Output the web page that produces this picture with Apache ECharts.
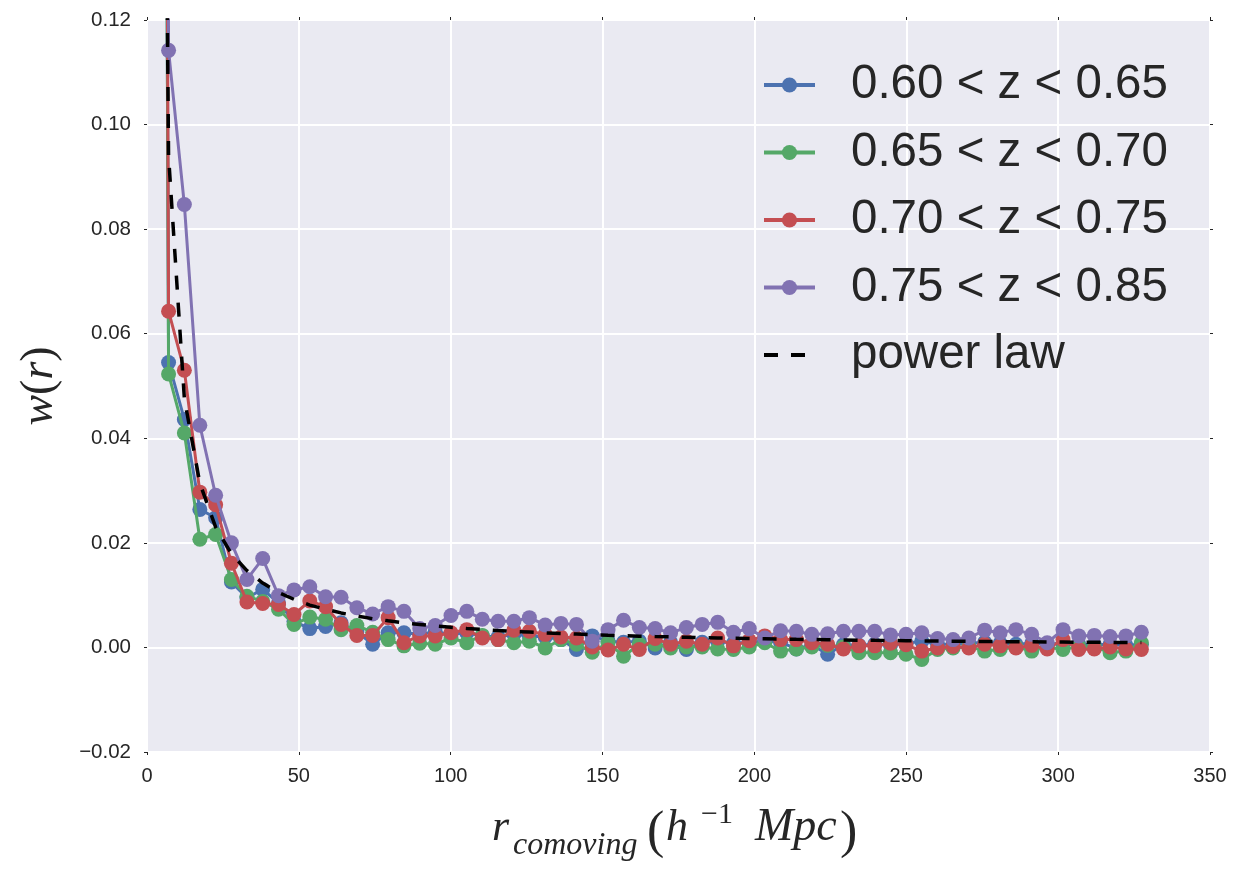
<!DOCTYPE html>
<html>
<head>
<meta charset="utf-8">
<title>w(r) by redshift slice</title>
<script src="https://cdn.jsdelivr.net/npm/echarts@6/dist/echarts.min.js"></script>
<style>
  html, body { margin: 0; padding: 0; background: #ffffff; }
  #chart { width: 1245px; height: 870px; }
</style>
</head>
<body>
<div id="chart"></div>
<script>
// Bin centres, r_comoving in h^-1 Mpc
const r = [
  1.9, 7.1, 12.3, 17.4, 22.6, 27.8, 32.9, 38.1,
  43.3, 48.4, 53.6, 58.8, 63.9, 69.1, 74.3, 79.4,
  84.6, 89.8, 94.9, 100.1, 105.3, 110.4, 115.6, 120.8,
  125.9, 131.1, 136.3, 141.4, 146.6, 151.8, 156.9, 162.1,
  167.3, 172.4, 177.6, 182.8, 187.9, 193.1, 198.3, 203.4,
  208.6, 213.8, 218.9, 224.1, 229.3, 234.4, 239.6, 244.8,
  249.9, 255.1, 260.3, 265.4, 270.6, 275.8, 280.9, 286.1,
  291.3, 296.4, 301.6, 306.8, 311.9, 317.1, 322.3, 327.4
];

// w(r) for 0.60 < z < 0.65
const wZ060 = [
  0.82, 0.0545, 0.0436, 0.0264, 0.0248, 0.0125, 0.0095, 0.0111,
  0.0085, 0.0050, 0.0036, 0.0040, 0.0047, 0.0030, 0.0006, 0.0028,
  0.0028, 0.0025, 0.0030, 0.0025, 0.0028, 0.0022, 0.0020, 0.0025,
  0.0022, 0.0020, 0.0015, -0.0004, 0.0022, 0.0012, 0.0010, 0.0012,
  -0.0001, 0.0010, -0.0004, 0.0010, 0.0012, 0.0008, 0.0010, 0.0012,
  0.0010, -0.0003, 0.0005, -0.0013, 0.0005, 0.0004, 0.0006, 0.0004,
  0.0008, 0.0012, 0.0006, 0.0006, 0.0008, 0.0010, 0.0008, 0.0006,
  0.0008, 0.0006, 0.0008, 0.0006, 0.0005, 0.0006, 0.0004, 0.0006
];

// w(r) for 0.65 < z < 0.70
const wZ065 = [
  0.80, 0.0523, 0.0410, 0.0207, 0.0216, 0.0130, 0.0098, 0.0088,
  0.0073, 0.0044, 0.0058, 0.0054, 0.0034, 0.0042, 0.0029, 0.0015,
  0.0003, 0.0008, 0.0006, 0.0018, 0.0009, 0.0023, 0.0015, 0.0009,
  0.0012, -0.0001, 0.0015, 0.0006, -0.0009, 0.0009, -0.0017, 0.0006,
  0.0006, -0.0001, 0.0001, 0.0001, -0.0003, -0.0004, 0.0001, 0.0009,
  -0.0007, -0.0003, 0.0001, 0.0004, 0.0001, -0.0010, -0.0010, -0.0010,
  -0.0013, -0.0023, -0.0004, -0.0001, 0.0002, -0.0007, -0.0004, 0.0001,
  -0.0007, 0.0001, -0.0004, 0.0002, 0.0001, -0.0010, -0.0007, 0.0009
];

// w(r) for 0.70 < z < 0.75
const wZ070 = [
  0.90, 0.0643, 0.0530, 0.0297, 0.0273, 0.0161, 0.0087, 0.0084,
  0.0082, 0.0063, 0.0089, 0.0078, 0.0044, 0.0023, 0.0023, 0.0057,
  0.0009, 0.0022, 0.0022, 0.0028, 0.0034, 0.0018, 0.0015, 0.0033,
  0.0031, 0.0025, 0.0020, 0.0018, 0.0001, -0.0005, 0.0006, -0.0004,
  0.0017, 0.0006, 0.0012, 0.0006, 0.0018, 0.0003, 0.0013, 0.0022,
  0.0015, 0.0015, 0.0009, 0.0006, -0.0003, 0.0003, 0.0003, 0.0008,
  0.0005, -0.0007, -0.0001, 0.0002, -0.0001, 0.0006, 0.0003, -0.0001,
  0.0004, -0.0003, 0.0015, -0.0004, -0.0003, 0.0001, -0.0003, -0.0004
];

// w(r) for 0.75 < z < 0.85
const wZ075 = [
  0.95, 0.1142, 0.0847, 0.0425, 0.0291, 0.0200, 0.0130, 0.0170,
  0.0099, 0.0110, 0.0116, 0.0097, 0.0096, 0.0076, 0.0064, 0.0078,
  0.0069, 0.0036, 0.0042, 0.0061, 0.0069, 0.0054, 0.0050, 0.0050,
  0.0057, 0.0043, 0.0046, 0.0044, 0.0012, 0.0034, 0.0052, 0.0038,
  0.0036, 0.0028, 0.0038, 0.0044, 0.0048, 0.0029, 0.0036, 0.0018,
  0.0032, 0.0031, 0.0025, 0.0026, 0.0031, 0.0031, 0.0031, 0.0024,
  0.0025, 0.0028, 0.0017, 0.0015, 0.0018, 0.0033, 0.0028, 0.0034,
  0.0025, 0.0009, 0.0034, 0.0022, 0.0023, 0.0021, 0.0022, 0.0029
];

// Power-law model evaluated at the same bin centres
const wPowerLaw = [
  0.448, 0.094, 0.0476, 0.0314, 0.0230, 0.0179, 0.0147, 0.0123,
  0.0105, 0.0092, 0.0081, 0.0073, 0.0066, 0.0060, 0.0055, 0.0051,
  0.0047, 0.0044, 0.0041, 0.00385, 0.00363, 0.00342, 0.00324, 0.00307,
  0.00293, 0.00279, 0.00266, 0.00255, 0.00244, 0.00234, 0.00225, 0.00216,
  0.00208, 0.00201, 0.00194, 0.00187, 0.00181, 0.00175, 0.00170, 0.00165,
  0.00160, 0.00155, 0.00151, 0.00146, 0.00142, 0.00139, 0.00135, 0.00132,
  0.00129, 0.00125, 0.00122, 0.00119, 0.00117, 0.00114, 0.00112, 0.00109,
  0.00107, 0.00105, 0.00103, 0.00100, 0.00099, 0.00097, 0.00095, 0.00093
];

const sliceNames = ['0.60 < z < 0.65', '0.65 < z < 0.70', '0.70 < z < 0.75', '0.75 < z < 0.85'];
const powerLawName = 'power law';

// Axis ranges: [min, max, step]
const xRange = [0, 350, 50];
const yRange = [-0.02, 0.12, 0.02];

const palette = ['#4C72B0', '#55A868', '#C44E52', '#8172B2'];
const textColor = '#262626';

const pairs = vals => r.map((x, i) => [x, vals[i]]);

const sliceSeries = [wZ060, wZ065, wZ070, wZ075].map((vals, i) => ({
  name: sliceNames[i],
  type: 'line',
  data: pairs(vals),
  clip: true,
  symbol: 'circle',
  symbolSize: 15,
  showSymbol: true,
  showAllSymbol: true,
  lineStyle: { color: palette[i], width: 3 },
  itemStyle: { color: palette[i], borderWidth: 0 },
  emphasis: { disabled: true },
  silent: true,
  z: 2 + i
}));

const powerSeries = {
  name: powerLawName,
  type: 'line',
  data: pairs(wPowerLaw),
  clip: true,
  symbol: 'none',
  showSymbol: false,
  lineStyle: { color: '#000000', width: 3.5, type: [14, 13] },
  itemStyle: { color: '#000000' },
  emphasis: { disabled: true },
  silent: true,
  z: 10
};

const yFmt = v => (Math.abs(v) < 1e-9 ? '0.00' : v.toFixed(2)).replace('-', '\u2212');

const tickStyle = { show: true, length: 3, lineStyle: { color: textColor, width: 1 } };
const hiddenLine = { show: false, onZero: false };

const serifItalic = { fontFamily: 'Liberation Serif', fontStyle: 'italic', fill: textColor };
const serifUpright = { fontFamily: 'Liberation Serif', fontStyle: 'normal', fill: textColor };

// left-aligned text piece; y is the vertical middle of the text box
function piece(text, x, y, size, base) {
  return {
    type: 'text', x: x, y: y, silent: true,
    style: Object.assign({
      text: text, fontSize: size,
      align: 'left', verticalAlign: 'middle',
      textAlign: 'left', textVerticalAlign: 'middle'
    }, base)
  };
}

const chart = echarts.init(document.getElementById('chart'), null, { renderer: 'canvas' });

chart.setOption({
  animation: false,
  backgroundColor: '#ffffff',
  grid: {
    show: true, backgroundColor: '#EAEAF2', borderWidth: 0,
    left: 147, right: 35, top: 20, bottom: 118,
    containLabel: false, outerBoundsMode: 'none'
  },
  xAxis: [{
    type: 'value', position: 'bottom',
    min: xRange[0], max: xRange[1], interval: xRange[2],
    axisLine: hiddenLine,
    axisTick: tickStyle,
    axisLabel: {
      show: true, fontSize: 20, color: textColor, margin: 14,
      fontFamily: 'Liberation Sans', showMinLabel: true, showMaxLabel: true, hideOverlap: false
    },
    splitLine: { show: true, lineStyle: { color: '#ffffff', width: 2 } }
  }, {
    type: 'value', position: 'top',
    min: xRange[0], max: xRange[1], interval: xRange[2],
    axisLine: hiddenLine, axisTick: tickStyle,
    axisLabel: { show: false }, splitLine: { show: false }
  }],
  yAxis: [{
    type: 'value', position: 'left',
    min: yRange[0], max: yRange[1], interval: yRange[2],
    axisLine: hiddenLine,
    axisTick: tickStyle,
    axisLabel: {
      show: true, fontSize: 20.5, color: textColor, margin: 16,
      fontFamily: 'Liberation Sans', formatter: yFmt,
      showMinLabel: true, showMaxLabel: true, hideOverlap: false
    },
    splitLine: { show: true, lineStyle: { color: '#ffffff', width: 2 } }
  }, {
    type: 'value', position: 'right',
    min: yRange[0], max: yRange[1], interval: yRange[2],
    axisLine: hiddenLine, axisTick: tickStyle,
    axisLabel: { show: false }, splitLine: { show: false }
  }],
  legend: {
    show: true,
    orient: 'vertical',
    left: 762, top: 61, padding: 0,
    itemWidth: 51, itemHeight: 19, itemGap: 19.5,
    selectedMode: false,
    lineStyle: { width: 4 },
    textStyle: {
      fontSize: 47.5, lineHeight: 46, fontFamily: 'Liberation Sans',
      color: textColor, padding: [0, 0, 0, 31]
    },
    data: sliceNames.map(n => ({ name: n })).concat([
      { name: powerLawName, itemStyle: { opacity: 0 } }
    ])
  },
  tooltip: { show: false },
  series: sliceSeries.concat([powerSeries]),
  graphic: [
    // y-axis title  w(r)
    {
      type: 'text', x: 40, y: 386, rotation: Math.PI / 2, silent: true,
      style: {
        text: '{i|w}{u|(}{i|r}{u|)}',
        align: 'center', verticalAlign: 'middle',
        textAlign: 'center', textVerticalAlign: 'middle',
        fontSize: 46, fontFamily: 'Liberation Serif', fill: textColor,
        rich: {
          i: { fontSize: 46, fontFamily: 'Liberation Serif', fontStyle: 'italic', fill: textColor },
          u: { fontSize: 46, fontFamily: 'Liberation Serif', fontStyle: 'normal', fill: textColor }
        }
      }
    },
    // x-axis title  r_comoving (h^-1 Mpc)
    piece('r', 492, 828, 44, serifItalic),
    piece('comoving', 513, 846, 32, serifItalic),
    piece('(', 647, 833, 52, serifUpright),
    piece('h', 666, 828, 44, serifItalic),
    piece('\u22121', 701, 815, 30, serifUpright),
    piece('Mpc', 755, 828, 46, serifItalic),
    piece(')', 840, 833, 52, serifUpright)
  ]
});
</script>
</body>
</html>
